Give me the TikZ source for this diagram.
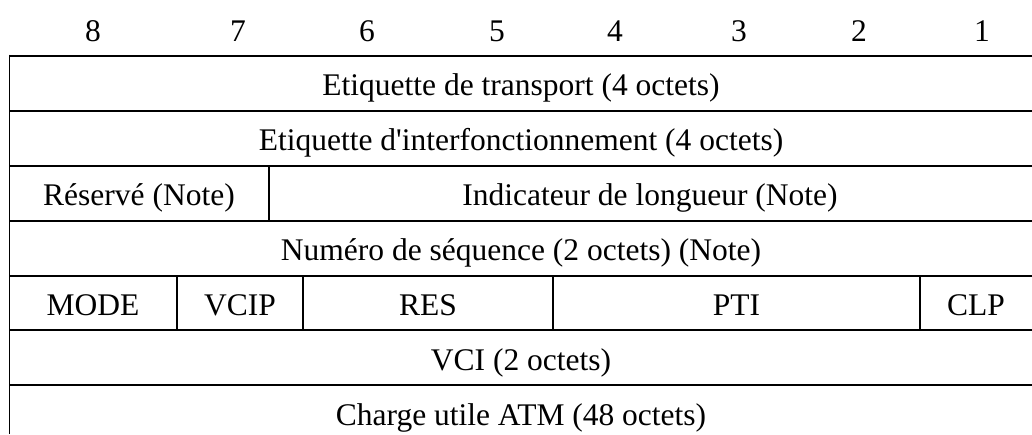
\documentclass[tikz,border=0pt]{standalone}
\usepackage{fontspec}
\setmainfont{Liberation Serif}[Ligatures=TeXOff]
\begin{document}
\begin{tikzpicture}[x=1pt,y=-1pt,
  hline/.style={line width=2pt},
  vline/.style={line width=1.5pt},
  lbl/.style={anchor=base,inner sep=0pt,font=\fontsize{31.5}{36}\selectfont}]
\useasboundingbox (0,0) rectangle (1032,434);
% header numbers
\foreach \n/\x in {8/93,7/238,6/367,5/497,4/615,3/739,2/859,1/982}
  \node[lbl] (b\n) at (\x,41) {\n};
% horizontal lines
\foreach \y in {55.5,110.5,165.5,220.5,275.5,330,385}
  \draw[hline] (9.5,\y) -- (1032,\y);
% left border
\draw[vline] (9.5,54.5) -- (9.5,434);
% inner dividers
\draw[vline] (269,165.5) -- (269,220.5);
\foreach \x in {177,303,553,920}
  \draw[vline] (\x,275.5) -- (\x,330);
% texts
\node[lbl] (r1) at (521,95) {Etiquette de transport (4 octets)};
\node[lbl] (r2) at (521,150) {Etiquette d'interfonctionnement (4 octets)};
\node[lbl] (r3a) at (139,205) {Réservé (Note)};
\node[lbl] (r3b) at (650,205) {Indicateur de longueur (Note)};
\node[lbl] (r4) at (521,260) {Numéro de séquence (2 octets) (Note)};
\node[lbl] (mode) at (93,315) {MODE};
\node[lbl] (vcip) at (240,315) {VCIP};
\node[lbl] (res) at (428,315) {RES};
\node[lbl] (pti) at (736.5,315) {PTI};
\node[lbl] (clp) at (976,315) {CLP};
\node[lbl] (r6) at (521,370) {VCI (2 octets)};
\node[lbl] (r7) at (521,425) {Charge utile ATM (48 octets)};
\end{tikzpicture}
\end{document}
